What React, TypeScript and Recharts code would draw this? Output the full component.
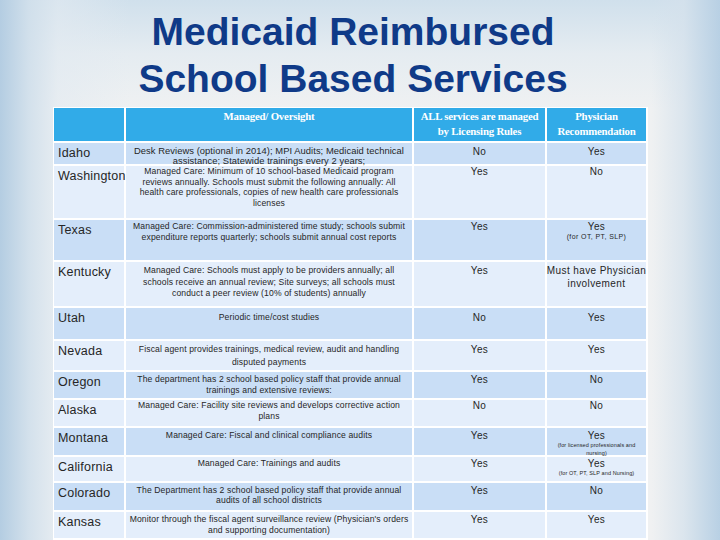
import React from 'react';
import { ComposedChart, XAxis, YAxis, ReferenceArea } from 'recharts';

// ---------- data ----------
const TITLE_LINES = ['Medicaid Reimbursed', 'School Based Services'];

const HEADERS: string[][] = [
  [],
  ['Managed/ Oversight'],
  ['ALL services are managed', 'by Licensing Rules'],
  ['Physician', 'Recommendation'],
];

const STATES = [
  'Idaho', 'Washington', 'Texas', 'Kentucky', 'Utah', 'Nevada',
  'Oregon', 'Alaska', 'Montana', 'California', 'Colorado', 'Kansas',
];

const OVERSIGHT: string[][] = [
  ['Desk Reviews (optional in 2014); MPI Audits; Medicaid technical', 'assistance; Statewide trainings every 2 years;'],
  ['Managed Care:  Minimum of 10 school-based Medicaid program', 'reviews annually.  Schools must submit the following annually:  All', 'health care professionals, copies of new health care professionals', 'licenses'],
  ['Managed Care:  Commission-administered time study; schools submit', 'expenditure reports quarterly; schools submit annual cost reports'],
  ['Managed Care:  Schools must apply to be providers annually; all', 'schools receive an annual review; Site surveys;  all schools must', 'conduct a peer review (10% of students) annually'],
  ['Periodic time/cost studies'],
  ['Fiscal agent provides trainings, medical review, audit and handling', 'disputed payments'],
  ['The department has 2 school based policy staff that provide annual', 'trainings and extensive reviews:'],
  ['Managed Care:  Facility site reviews and develops corrective action', 'plans'],
  ['Managed Care:  Fiscal and clinical compliance audits'],
  ['Managed Care:  Trainings and audits'],
  ['The Department has 2 school based policy staff that provide annual', 'audits of all school districts'],
  ["Monitor through the fiscal agent surveillance review (Physician's orders", 'and supporting documentation)'],
];

const LICENSING = ['No', 'Yes', 'Yes', 'Yes', 'No', 'Yes', 'Yes', 'No', 'Yes', 'Yes', 'Yes', 'Yes'];

const PHYSICIAN: string[][] = [
  ['Yes'], ['No'], ['Yes'], ['Must have Physician', 'involvement'], ['Yes'], ['Yes'],
  ['No'], ['No'], ['Yes'], ['Yes'], ['No'], ['Yes'],
];

const PHYSICIAN_NOTES: string[][] = [
  [], [], ['(for OT, PT, SLP)'], [], [], [], [], [],
  ['(for licensed professionals and', 'nursing)'],
  ['(for OT, PT, SLP and Nursing)'],
  [], [],
];

// ---------- layout (table geometry, not data) ----------
const W = 720;
const H = 540;
const COL_EDGES = [53, 125, 413, 546, 647];
const ROW_EDGES = [107, 142, 165, 219, 261, 307, 340, 371, 399, 427, 456, 482, 511, 539];
const BODY_BASE = [11, 8, 9, 11, 11.5, 11, 10, 7.5, 10, 8.5, 10, 10];
const BODY_LH = [9.5, 10.5, 10.5, 11.5, 11, 13, 10.5, 11.5, 11, 11, 10, 11];
const NOTE_SIZE = [7, 7, 7, 7, 7, 7, 7, 7, 5.5, 5.5, 7, 7];

const SANS = '"Liberation Sans", Arial, sans-serif';
const SERIF = '"Liberation Serif", "Times New Roman", serif';
const HEADER_FILL = '#31ABE8';
const ROW_DARK = '#C9DEF6';
const ROW_LIGHT = '#E4EEFB';
const TEXT = '#262626';

type Box = { x: number; y: number; width: number; height: number };

const cellShape = (fill: string, render: (b: Box) => React.ReactNode) => (p: any) => (
  <g>
    {fill !== 'none' && <rect x={p.x} y={p.y} width={p.width} height={p.height} fill={fill} />}
    {render({ x: p.x, y: p.y, width: p.width, height: p.height })}
  </g>
);

const centerLines = (
  b: Box,
  lines: string[],
  base: number,
  lh: number,
  style: React.SVGProps<SVGTextElement>,
  keyPrefix: string,
) =>
  lines.map((t, i) => (
    <text
      key={keyPrefix + i}
      x={b.x + b.width / 2}
      y={b.y + base + i * lh}
      textAnchor="middle"
      {...style}
    >
      {t}
    </text>
  ));

export default function App() {
  const areas: React.ReactNode[] = [];

  // title
  areas.push(
    <ReferenceArea
      key="title"
      x1={0}
      x2={W}
      y1={0}
      y2={100}
      ifOverflow="visible"
      shape={cellShape('none', (b) =>
        TITLE_LINES.map((t, i) => (
          <text
            key={'t' + i}
            x={b.x + b.width * 0.4903}
            y={b.y + 45 + i * 47}
            textAnchor="middle"
            fontFamily={SANS}
            fontWeight="bold"
            fontSize={39}
            fill="#0F3A88"
          >
            {t}
          </text>
        )),
      )}
    />,
  );

  // white table backing
  areas.push(
    <ReferenceArea
      key="backing"
      x1={COL_EDGES[0]}
      x2={COL_EDGES[4] + 1}
      y1={ROW_EDGES[0]}
      y2={H}
      ifOverflow="visible"
      shape={cellShape('#FFFFFF', () => null)}
    />,
  );

  // header cells
  HEADERS.forEach((lines, c) => {
    areas.push(
      <ReferenceArea
        key={'h' + c}
        x1={COL_EDGES[c] + 1}
        x2={COL_EDGES[c + 1] - 1}
        y1={ROW_EDGES[0] + 1}
        y2={ROW_EDGES[1] - 1}
        ifOverflow="visible"
        shape={cellShape(HEADER_FILL, (b) =>
          centerLines(b, lines, 12, 14.5, {
            fontFamily: SERIF,
            fontWeight: 'bold',
            fontSize: 10.8,
            fill: '#FFFFFF',
            letterSpacing: -0.2,
          }, 'hl' + c),
        )}
      />,
    );
  });

  // body rows
  STATES.forEach((state, r) => {
    const y1 = ROW_EDGES[r + 1] + 1;
    const y2 = ROW_EDGES[r + 2] - 1;
    const fill = r % 2 === 0 ? ROW_DARK : ROW_LIGHT;
    const base = BODY_BASE[r];
    const lh = BODY_LH[r];

    // state name
    areas.push(
      <ReferenceArea
        key={'s' + r}
        x1={COL_EDGES[0] + 1}
        x2={COL_EDGES[1] - 1}
        y1={y1}
        y2={y2}
        ifOverflow="visible"
        shape={cellShape(fill, (b) => (
          <text x={b.x + 4} y={b.y + 13.5} fontFamily={SANS} fontSize={12.5} fill={TEXT} letterSpacing={0.2}>
            {state}
          </text>
        ))}
      />,
    );

    // oversight
    areas.push(
      <ReferenceArea
        key={'o' + r}
        x1={COL_EDGES[1] + 1}
        x2={COL_EDGES[2] - 1}
        y1={y1}
        y2={y2}
        ifOverflow="visible"
        shape={cellShape(fill, (b) =>
          centerLines(b, OVERSIGHT[r], base, lh, {
            fontFamily: SANS,
            fontSize: r === 0 ? 9.4 : 8.6,
            fill: TEXT,
            letterSpacing: r === 0 ? 0.05 : 0.12,
          }, 'ol' + r),
        )}
      />,
    );

    // licensing
    areas.push(
      <ReferenceArea
        key={'l' + r}
        x1={COL_EDGES[2] + 1}
        x2={COL_EDGES[3] - 1}
        y1={y1}
        y2={y2}
        ifOverflow="visible"
        shape={cellShape(fill, (b) =>
          centerLines(b, [LICENSING[r]], base + 1, 0, {
            fontFamily: SANS,
            fontSize: 10,
            fill: TEXT,
            letterSpacing: 0.4,
          }, 'll' + r),
        )}
      />,
    );

    // physician
    const notes = PHYSICIAN_NOTES[r];
    const ns = NOTE_SIZE[r];
    areas.push(
      <ReferenceArea
        key={'p' + r}
        x1={COL_EDGES[3] + 1}
        x2={COL_EDGES[4] - 1}
        y1={y1}
        y2={y2}
        ifOverflow="visible"
        shape={cellShape(fill, (b) => (
          <g>
            {centerLines(b, PHYSICIAN[r], base + 1, 13, {
              fontFamily: SANS,
              fontSize: 10,
              fill: TEXT,
              letterSpacing: 0.4,
            }, 'pl' + r)}
            {centerLines(b, notes, base + 1 + (ns > 6 ? 9 : 8), ns > 6 ? 9 : 8, {
              fontFamily: SANS,
              fontSize: ns,
              fill: TEXT,
              letterSpacing: ns > 6 ? 0.4 : 0.1,
            }, 'pn' + r)}
          </g>
        ))}
      />,
    );
  });

  return (
    <div
      style={{
        position: 'fixed',
        left: 0,
        top: 0,
        width: W,
        height: H,
        background:
          'linear-gradient(to right, rgba(180,205,226,1) 0%, rgba(208,223,235,0.9) 4%, rgba(226,234,241,0.6) 8%, rgba(240,241,242,0) 18%, rgba(240,241,242,0) 90.5%, rgba(212,225,236,0.75) 95%, rgba(184,208,228,1) 100%), linear-gradient(to bottom, #D0E0EC 0%, #E5ECF1 10%, #EFF1F2 20%, #F0F1F2 100%)',
      }}
    >
      <ComposedChart width={W} height={H} data={STATES.map((s) => ({ s }))} margin={{ top: 0, right: 0, bottom: 0, left: 0 }}>
        <XAxis type="number" dataKey="x" domain={[0, W]} allowDataOverflow hide />
        <YAxis type="number" dataKey="y" domain={[0, H]} allowDataOverflow reversed hide />
        {areas}
      </ComposedChart>
    </div>
  );
}
